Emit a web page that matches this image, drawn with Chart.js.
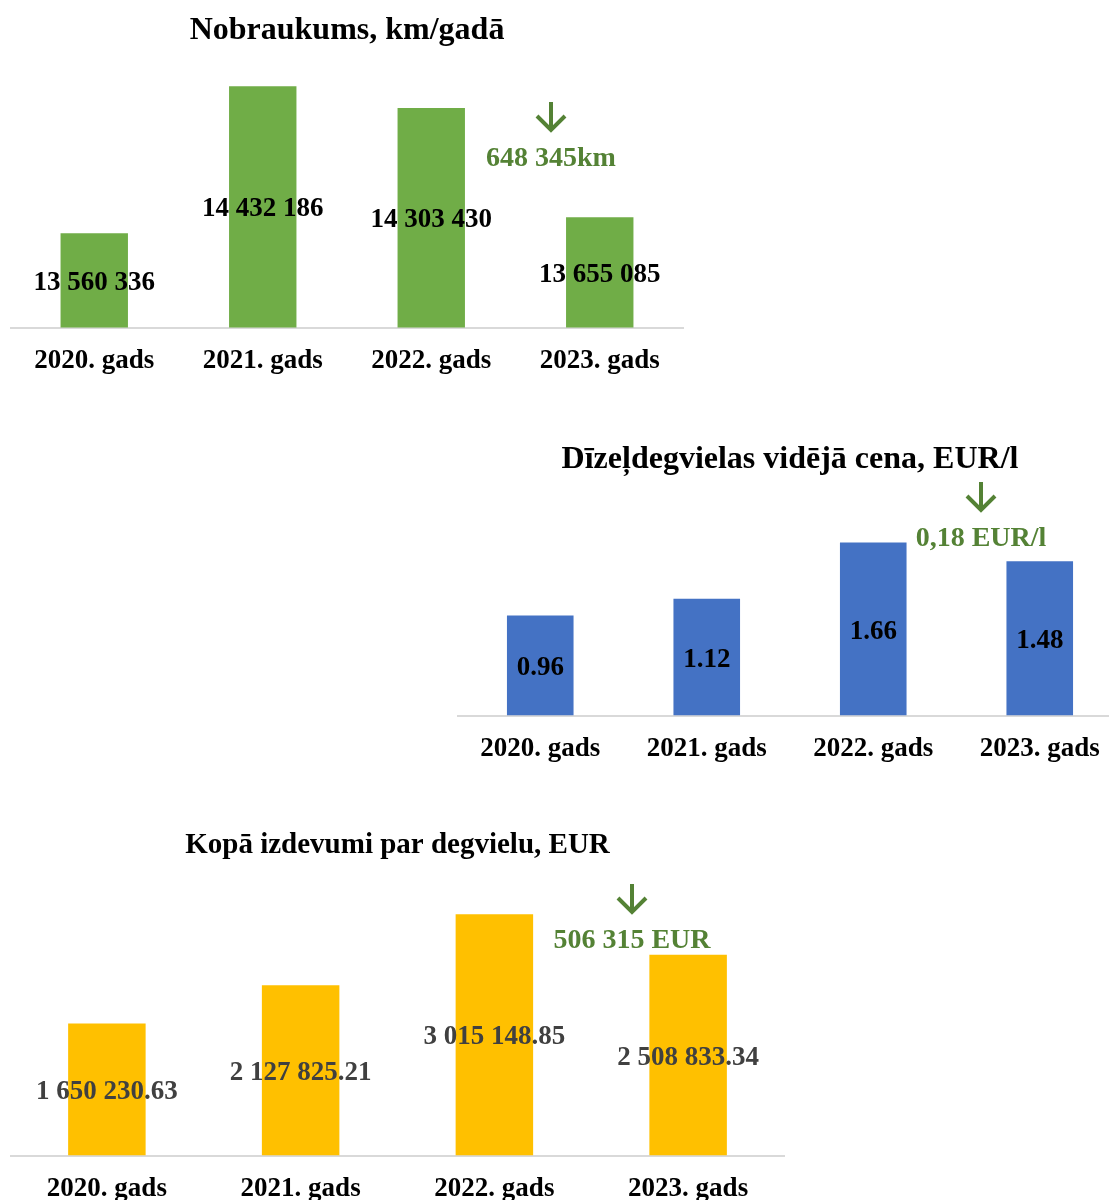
<!DOCTYPE html>
<html lang="lv">
<head>
    <meta charset="UTF-8">
    <title>Degvielas izdevumi</title>
    <style>
        html, body {
            margin: 0;
            padding: 0;
            background: #fff;
            overflow: hidden;
        }
        body {
            width: 1109px;
            height: 1200px;
            position: relative;
            font-family: "Liberation Serif", "Times New Roman", serif;
        }
        .chart-box {
            position: absolute;
        }
        .note {
            position: absolute;
            color: #548235;
            font-weight: bold;
            font-size: 28px;
            white-space: nowrap;
            transform: translate(-50%, -50%);
            line-height: 1;
        }
        .arrow {
            position: absolute;
            transform: translateX(-50%);
        }
    </style>
</head>
<body>
    <div class="chart-box" style="left:10px; top:0px;"><canvas id="chartKm" width="674" height="401"></canvas></div>
    <div class="chart-box" style="left:457px; top:420px;"><canvas id="chartPrice" width="666" height="369"></canvas></div>
    <div class="chart-box" style="left:10px; top:800px;"><canvas id="chartCost" width="775" height="429"></canvas></div>

    <!-- izmaiņu piezīmes -->
    <svg class="arrow" style="left:551px; top:101px;" width="32" height="32" viewBox="0 0 32 32"><path d="M16 1 V29 M2 15 L16 29 L30 15" fill="none" stroke="#548235" stroke-width="4"/></svg>
    <div class="note" style="left:551px; top:157px;">648 345km</div>

    <svg class="arrow" style="left:981px; top:481px;" width="32" height="32" viewBox="0 0 32 32"><path d="M16 1 V29 M2 15 L16 29 L30 15" fill="none" stroke="#548235" stroke-width="4"/></svg>
    <div class="note" style="left:981px; top:537px;">0,18 EUR/l</div>

    <svg class="arrow" style="left:632px; top:883px;" width="32" height="32" viewBox="0 0 32 32"><path d="M16 1 V29 M2 15 L16 29 L30 15" fill="none" stroke="#548235" stroke-width="4"/></svg>
    <div class="note" style="left:632px; top:939px;">506 315 EUR</div>

    <script src="https://cdn.jsdelivr.net/npm/chart.js"></script>
    <script>
        const years = ['2020. gads', '2021. gads', '2022. gads', '2023. gads'];
        const mileage = [13560336, 14432186, 14303430, 13655085];
        const dieselPrice = [0.96, 1.12, 1.66, 1.48];
        const fuelCost = [1650230.63, 2127825.21, 3015148.85, 2508833.34];

        const FONT = '"Liberation Serif", "Times New Roman", serif';

        // 13560336 -> "13 560 336"
        function spaced(v, decimals) {
            const parts = v.toFixed(decimals).split('.');
            parts[0] = parts[0].replace(/\B(?=(\d{3})+(?!\d))/g, ' ');
            return parts.join('.');
        }

        // vērtības bāru vidū (redzamās daļas vidū)
        const barLabels = {
            id: 'barLabels',
            afterDatasetsDraw(chart, args, opts) {
                const ctx = chart.ctx;
                const area = chart.chartArea;
                const meta = chart.getDatasetMeta(0);
                const data = chart.data.datasets[0].data;
                ctx.save();
                ctx.font = 'bold 27px ' + FONT;
                ctx.fillStyle = opts.color || '#000';
                ctx.textAlign = 'center';
                ctx.textBaseline = 'middle';
                meta.data.forEach((bar, i) => {
                    const base = Math.min(bar.base, area.bottom);
                    const y = (bar.y + base) / 2 + 2.5;
                    ctx.fillText(opts.format(data[i]), bar.x, y);
                });
                ctx.restore();
            }
        };

        function makeChart(id, values, color, title, titleSize, min, max, titlePad, labelColor, format) {
            return new Chart(document.getElementById(id), {
                type: 'bar',
                data: {
                    labels: years,
                    datasets: [{
                        data: values,
                        backgroundColor: color,
                        barPercentage: 0.4,
                        categoryPercentage: 1
                    }]
                },
                options: {
                    responsive: false,
                    animation: false,
                    devicePixelRatio: 1,
                    layout: { padding: { left: 0, right: 0, top: 0, bottom: 6 } },
                    plugins: {
                        legend: { display: false },
                        tooltip: { enabled: false },
                        title: {
                            display: true,
                            text: title,
                            color: '#000',
                            font: { family: FONT, size: titleSize, weight: 'bold' },
                            padding: titlePad
                        },
                        barLabels: { color: labelColor, format: format }
                    },
                    scales: {
                        x: {
                            grid: { display: false, drawTicks: false },
                            border: { display: true, color: '#D9D9D9', width: 2 },
                            ticks: {
                                color: '#000',
                                padding: 17.5,
                                font: { family: FONT, size: 27, weight: 'bold' }
                            }
                        },
                        y: {
                            display: false,
                            min: min,
                            max: max
                        }
                    }
                },
                plugins: [barLabels]
            });
        }

        makeChart('chartKm', mileage, '#70AD47', 'Nobraukums, km/gadā', 32,
            13000000, 14600000, { top: 12, bottom: 7.6 }, '#000', v => spaced(v, 0));

        makeChart('chartPrice', dieselPrice, '#4472C4', 'Dīzeļdegvielas vidējā cena, EUR/l', 32,
            0, 1.8, { top: 20.5, bottom: 49 }, '#000', v => v.toFixed(2));

        makeChart('chartCost', fuelCost, '#FFC000', 'Kopā izdevumi par degvielu, EUR', 29,
            0, 3500000, { top: 28, bottom: 12.5 }, '#404040', v => spaced(v, 2));
    </script>
</body>
</html>
